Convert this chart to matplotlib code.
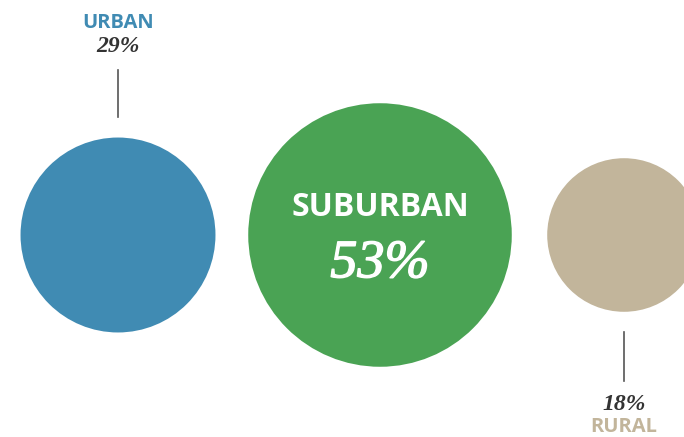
import matplotlib
matplotlib.use("Agg")
import matplotlib.pyplot as plt
from matplotlib.patches import Circle
import matplotlib.patheffects as pe
import numpy as np

categories = ["URBAN", "SUBURBAN", "RURAL"]
values = [29, 53, 18]
colors = ["#408bb3", "#4aa354", "#c2b59b"]

centers_x = [118, 380, 624]
center_y = 235
scale = 18.1  # px per sqrt(percent)

fig = plt.figure(figsize=(6.84, 4.37), dpi=100)
ax = fig.add_axes([0, 0, 1, 1])
ax.set_xlim(0, 684)
ax.set_ylim(437, 0)
ax.axis("off")

for cat, v, c, cx in zip(categories, values, colors, centers_x):
    r = scale * np.sqrt(v)
    ax.add_patch(Circle((cx, center_y), r, color=c, lw=0))

sans = ["Open Sans", "DejaVu Sans"]
serif = ["Liberation Serif", "DejaVu Serif"]

# Urban (label above)
ax.text(centers_x[0], 23, categories[0], color=colors[0], fontsize=14.5,
        fontweight="bold", family=sans, ha="center", va="center")
ax.text(centers_x[0], 47, f"{values[0]}%", color="#333333", fontsize=17,
        fontweight="bold", fontstyle="italic", family=serif, ha="center", va="center")
ax.plot([centers_x[0], centers_x[0]], [70, 117], color="#555555", lw=1.2)

# Suburban (label inside)
ax.text(centers_x[1], 208, categories[1], color="white", fontsize=23,
        fontweight="bold", family=sans, ha="center", va="center")
ax.text(centers_x[1], 264, f"{values[1]}%", color="white", fontsize=39,
        fontstyle="italic", family=serif, ha="center", va="center",
        path_effects=[pe.withStroke(linewidth=1.0, foreground="white")])

# Rural (label below)
ax.plot([centers_x[2], centers_x[2]], [332, 381], color="#555555", lw=1.2)
ax.text(centers_x[2], 405, f"{values[2]}%", color="#333333", fontsize=17,
        fontweight="bold", fontstyle="italic", family=serif, ha="center", va="center")
ax.text(centers_x[2], 427, categories[2], color=colors[2], fontsize=14.5,
        fontweight="bold", family=sans, ha="center", va="center")

fig.savefig("out.png", dpi=100)
